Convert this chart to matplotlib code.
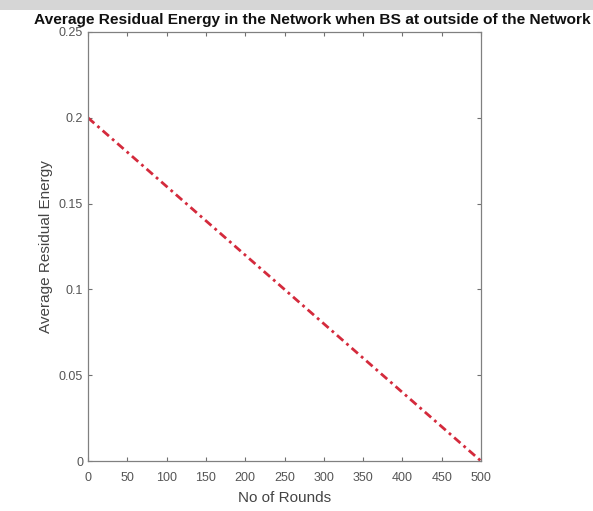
import numpy as np
import matplotlib.pyplot as plt
from matplotlib.patches import Rectangle

# data
rounds = [0, 50, 100, 150, 200, 250, 300, 350, 400, 450, 500]
energy = [0.2, 0.18, 0.16, 0.14, 0.12, 0.10, 0.08, 0.06, 0.04, 0.02, 0.0]

xticks = [0, 50, 100, 150, 200, 250, 300, 350, 400, 450, 500]
yticks = [0, 0.05, 0.1, 0.15, 0.2, 0.25]
yticklabels = ["0", "0.05", "0.1", "0.15", "0.2", "0.25"]

plt.rcParams["font.family"] = ["Liberation Sans", "DejaVu Sans"]

fig = plt.figure(figsize=(5.93, 5.11), dpi=100)
fig.patch.set_facecolor("white")
# grey band at top of the screenshot
fig.add_artist(Rectangle((0, 1 - 10 / 511), 1, 10 / 511, transform=fig.transFigure,
                         facecolor="#d6d6d6", edgecolor="none"))

ax = fig.add_axes([88 / 593, 1 - 461 / 511, (481 - 88) / 593, (461 - 32) / 511])
ax.plot(rounds, energy, color="#d42a3c", linewidth=2, dashes=(3, 1.5, 1, 1.5))

ax.set_xlim(0, 500)
ax.set_ylim(0, 0.25)
ax.set_xticks(xticks)
ax.set_yticks(yticks)
ax.set_yticklabels(yticklabels)
ax.tick_params(direction="in", top=True, right=True, length=3, width=0.8,
               colors="#707070", labelsize=9, labelcolor="#555555")
ax.tick_params(axis="x", pad=8)
for s in ax.spines.values():
    s.set_color("#808080")
    s.set_linewidth(0.9)

ax.set_xlabel("No of Rounds", fontsize=11, color="#444444", labelpad=5)
ax.set_ylabel("Average Residual Energy", fontsize=11, color="#444444", labelpad=4)

fig.text(34 / 593, 1 - 20 / 511, "Average Residual Energy in the Network when BS at outside of the Network",
         fontsize=11.15, fontweight="bold", ha="left", va="center", color="#111111")

fig.savefig("out.png", dpi=100)
